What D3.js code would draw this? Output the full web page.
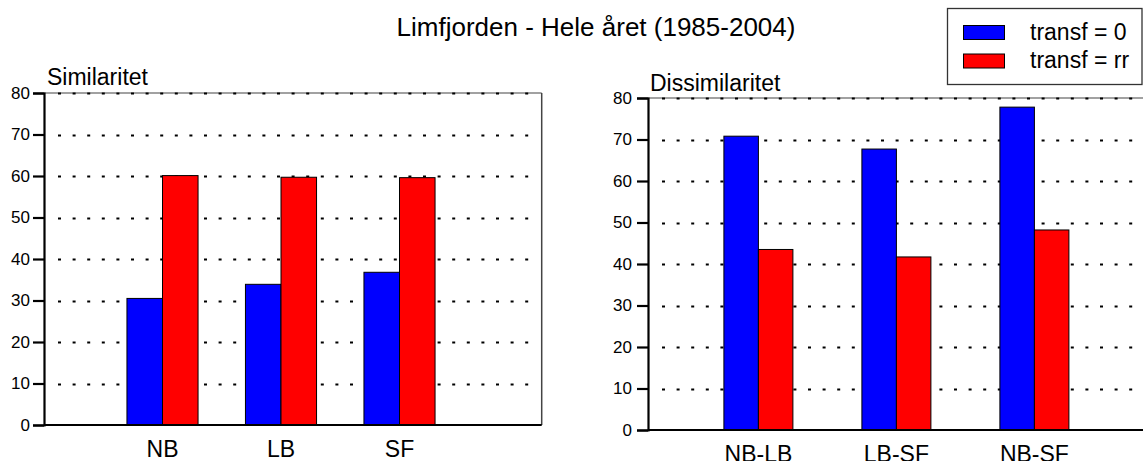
<!DOCTYPE html>
<html>
<head>
<meta charset="utf-8">
<script src="https://cdn.jsdelivr.net/npm/d3@7"></script>
<style>
body { margin: 0; background: #fff; }
svg text { font-family: "Liberation Sans", Arial, sans-serif; fill: #000; }
</style>
</head>
<body>
<div id="chart"></div>
<script>
var seriesNames = ['transf = 0', 'transf = rr'];
var seriesColors = ['#0000ff', '#ff0000'];

var simCategories = ['NB', 'LB', 'SF'];
var simT0 = [30.5, 33.9, 36.8];
var simRR = [60.1, 59.7, 59.6];

var disCategories = ['NB-LB', 'LB-SF', 'NB-SF'];
var disT0 = [70.8, 67.7, 77.8];
var disRR = [43.5, 41.7, 48.2];

var yTicks = [0, 10, 20, 30, 40, 50, 60, 70, 80];

var width = 1143, height = 461;

var svg = d3.select('#chart')
    .append('svg')
    .attr('width', width)
    .attr('height', height);

svg.append('text')
    .attr('x', 596)
    .attr('y', 36)
    .attr('text-anchor', 'middle')
    .style('font-size', '26px')
    .text('Limfjorden - Hele året (1985-2004)');

function drawPanel(config) {
    var x = d3.scaleLinear().domain(config.xDomain).range([config.left, config.left + config.xUnit * (config.xDomain[1] - config.xDomain[0])]);
    var y = d3.scaleLinear().domain([0, 80]).range([config.bottom, config.top]);
    var g = svg.append('g');
    var right = Math.min(x(config.xDomain[1]), width + 5);

    // top frame line
    g.append('line')
        .attr('x1', config.left).attr('x2', right)
        .attr('y1', y(80)).attr('y2', y(80))
        .attr('stroke', '#444').attr('stroke-width', 1.2);
    if (config.rightBorder) {
        g.append('line')
            .attr('x1', right).attr('x2', right)
            .attr('y1', y(80)).attr('y2', y(0))
            .attr('stroke', '#444').attr('stroke-width', 1.5);
    }

    // dotted grid
    g.selectAll('.grid')
        .data(yTicks.filter(function(d) { return d > 0; }))
        .enter()
        .append('line')
        .attr('class', 'grid')
        .attr('x1', config.left + config.gridStart)
        .attr('x2', right - 4)
        .attr('y1', function(d) { return Math.round(y(d)) + 0.5; })
        .attr('y2', function(d) { return Math.round(y(d)) + 0.5; })
        .attr('stroke', '#000')
        .attr('stroke-width', 1.8)
        .attr('stroke-dasharray', '3,11.6');

    // bars
    var groups = config.categories.map(function(c, i) {
        return { cat: c, pos: i + 1, values: [config.t0[i], config.rr[i]] };
    });
    var bw = config.barWidth;
    groups.forEach(function(grp) {
        g.selectAll(null)
            .data(grp.values)
            .enter()
            .append('rect')
            .attr('x', function(d, j) { return x(grp.pos + (j - 1) * bw); })
            .attr('y', function(d) { return y(d); })
            .attr('width', x(bw) - x(0))
            .attr('height', function(d) { return y(0) - y(d); })
            .attr('fill', function(d, j) { return seriesColors[j]; })
            .attr('stroke', '#000')
            .attr('stroke-width', 1);
        g.append('text')
            .attr('x', x(grp.pos))
            .attr('y', config.bottom + config.labelOffset)
            .attr('text-anchor', 'middle')
            .style('font-size', '23px')
            .text(grp.cat);
    });

    // axes
    var yAxis = d3.axisLeft(y).tickValues(yTicks).tickSize(config.tickSize).tickPadding(config.tickPad);
    var ya = g.append('g')
        .attr('transform', 'translate(' + config.left + ',0)')
        .call(yAxis);
    ya.select('.domain').attr('stroke', '#000').attr('stroke-width', 2.2);
    ya.selectAll('.tick line').attr('stroke', '#000').attr('stroke-width', 2.2);
    ya.selectAll('.tick text')
        .style('font-size', '17px')
        .style('font-family', '"Liberation Sans", Arial, sans-serif')
        .attr('fill', '#000');

    g.append('line')
        .attr('x1', config.left).attr('x2', right)
        .attr('y1', y(0)).attr('y2', y(0))
        .attr('stroke', '#000').attr('stroke-width', 2.2);

    g.append('text')
        .attr('x', config.titleX)
        .attr('y', config.titleY)
        .style('font-size', '23px')
        .text(config.title);
}

drawPanel({
    categories: simCategories, t0: simT0, rr: simRR,
    xDomain: [0, 4.2], xUnit: 118.5, left: 44, top: 93, bottom: 425,
    barWidth: 0.3, gridStart: 14, rightBorder: true,
    tickSize: 11, tickPad: 3,
    title: 'Similaritet', titleX: 47, titleY: 85, labelOffset: 32
});

drawPanel({
    categories: disCategories, t0: disT0, rr: disRR,
    xDomain: [0.2, 4.2], xUnit: 138, left: 648, top: 98, bottom: 430,
    barWidth: 0.25, gridStart: 14, rightBorder: false,
    tickSize: 11, tickPad: 5,
    title: 'Dissimilaritet', titleX: 650, titleY: 91, labelOffset: 32
});

// legend
var legend = svg.append('g');
legend.append('rect')
    .attr('x', 947.5).attr('y', 8.5)
    .attr('width', 194.5).attr('height', 76)
    .attr('fill', '#fff')
    .attr('stroke', '#333').attr('stroke-width', 1.3);
seriesNames.forEach(function(name, i) {
    legend.append('rect')
        .attr('x', 963.5).attr('y', 25.5 + i * 28.5)
        .attr('width', 41).attr('height', 14)
        .attr('fill', seriesColors[i])
        .attr('stroke', '#000').attr('stroke-width', 1);
    legend.append('text')
        .attr('x', 1030).attr('y', 40 + i * 28)
        .style('font-size', '23px')
        .text(name);
});
</script>
</body>
</html>
